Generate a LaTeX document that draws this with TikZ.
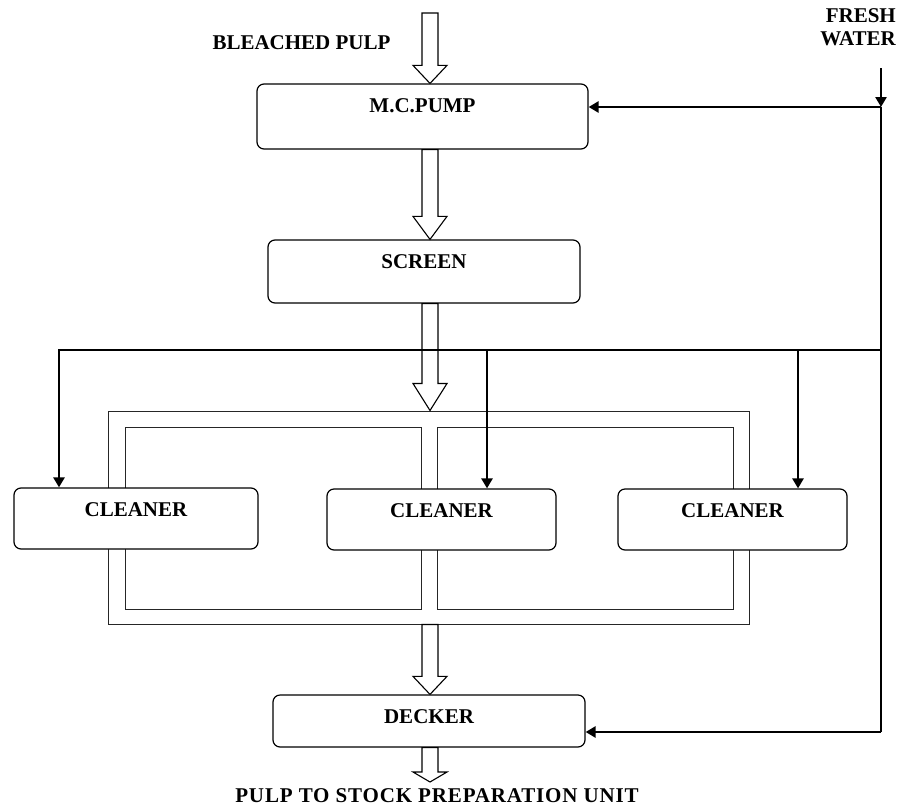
\documentclass[tikz,border=0pt]{standalone}
\usepackage{fontspec}
\setmainfont{Liberation Serif}
\usetikzlibrary{arrows.meta, calc}

\tikzset{
  unit/.style={draw, fill=white, line width=1.2pt, rounded corners=7pt, inner sep=0pt,
    text height=28pt, font=\bfseries\fontsize{21}{23}\selectfont},
  tag/.style={font=\bfseries\fontsize{21}{23}\selectfont, inner sep=0pt},
  hollow/.style={draw, fill=white, line width=1.1pt, line join=miter},
  tank/.style={draw=black!85, line width=1pt},
  water/.style={line width=2.6pt, -{Triangle[length=10pt,width=11pt]}},
  main/.style={line width=2.6pt}
}
\newcommand{\flowarrow}[3]{%
  \draw[hollow] ($(#1)+(-8,0)$) -- ($(#2)+(-8,-#3)$) -- ($(#2)+(-17,-#3)$) -- (#2)
    -- ($(#2)+(17,-#3)$) -- ($(#2)+(8,-#3)$) -- ($(#1)+(8,0)$) -- cycle;}

\begin{document}
\begin{tikzpicture}[x=1pt, y=-1pt]
\useasboundingbox (0,0) rectangle (899,806);
\coordinate (axis) at (430,0);
\coordinate (in) at (430,13);
\coordinate (out) at (430,782);

% cleaner bank
\node[tank, minimum width=641pt, minimum height=213pt, inner sep=0pt] (bank) at (428.5,517.5) {};
\draw[tank] (125,427) rectangle (421,609);
\draw[tank] (437,427) rectangle (733,609);

% units
\node[unit, minimum width=331pt, text depth=37pt] (pump) at (422.5,116.5) {M.C.PUMP};
\node[unit, minimum width=312pt, text depth=35pt] (screen) at (424,271.5) {SCREEN};
\node[unit, minimum width=244pt, text depth=33pt] (cl1) at (136,518.5) {CLEANER};
\node[unit, minimum width=229pt, text depth=33pt] (cl2) at (441.5,519.5) {CLEANER};
\node[unit, minimum width=229pt, text depth=33pt] (cl3) at (732.5,519.5) {CLEANER};
\node[unit, minimum width=312pt, text depth=24pt] (decker) at (429,721) {DECKER};

% labels
\node[tag] (bleach) at (301.5,43) {BLEACHED PULP};
\node[tag, align=right, anchor=east] (fresh) at (896,27) {FRESH\\WATER};
\node[tag] (stock) at (437,795.5) {\addfontfeatures{LetterSpace=4}PULP TO STOCK PREPARATION UNIT};

% pulp flow
\flowarrow{in}{axis |- pump.north}{18}
\flowarrow{axis |- pump.south}{axis |- screen.north}{23}
\flowarrow{axis |- screen.south}{axis |- bank.north}{27}
\flowarrow{axis |- bank.south}{axis |- decker.north}{18}
\flowarrow{axis |- decker.south}{out}{10}

% fresh water
\coordinate (fw) at (881,68);
\coordinate (tee) at (881,107);
\coordinate (low) at (881,732);
\coordinate (h0) at (59,350);
\coordinate (h1) at (487,350);
\coordinate (h2) at (798,350);
\coordinate (h3) at (881,350);
\draw[water] (fw) -- (tee);
\draw[water] (tee) -- (tee -| pump.east);
\draw[main] (tee) -- (low);
\draw[water] (low) -- (low -| decker.east);
\draw[water] (h3) -- (h0) -- (h0 |- cl1.north);
\draw[water] (h1) -- (h1 |- cl2.north);
\draw[water] (h2) -- (h2 |- cl3.north);
\end{tikzpicture}
\end{document}
